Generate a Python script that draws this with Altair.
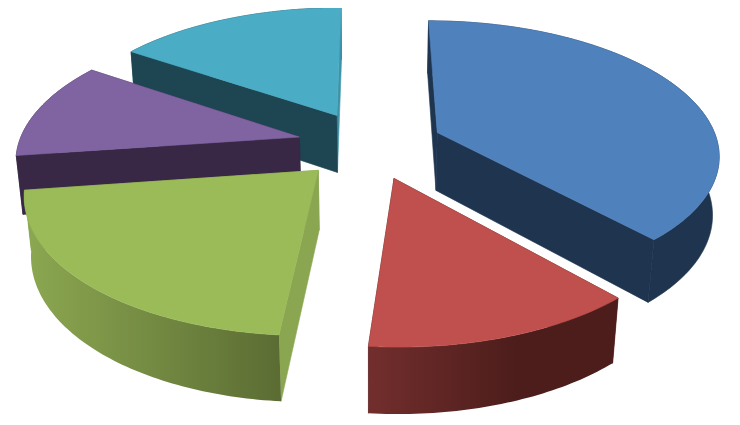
import math
import altair as alt
import pandas as pd

# Slice shares (degrees of the pie), clockwise from the back of the pie
names = ["Blue", "Red", "Green", "Purple", "Teal"]
shares = [138, 47, 77, 42, 56]
start_angle = 0
top_colors = ["#4F81BD", "#C0504D", "#9BBB59", "#8064A2", "#4BACC6"]
wall_dark = ["#1F344F", "#4C1D1B", "#5B6C33", "#382845", "#1D4652"]
wall_light = ["#1F344F", "#722E2D", "#8CA851", "#382845", "#1D4652"]
cut_start = ["#1F344F", "#4C1D1B", "#8AA650", "#382845", "#1D4652"]
cut_end = ["#1F344F", "#4C1D1B", "#8AA650", "#382845", "#3F93A8"]
paint_order = [4, 3, 0, 2, 1]
rim_behind_cuts = [True, False, False, True, True]

# Camera of the 3-D pie
CX, CY, F, ELEV, DIST, EXPLODE, DEPTH = 370.0, 144.7, 281.0, 28.0, 5.87, 0.26, 0.24
SIN, COS = math.sin(math.radians(ELEV)), math.cos(math.radians(ELEV))


def project(u, v, z):
    w = DIST - v * COS - z * SIN
    k = F * DIST / w
    return CX + k * u, CY + k * (v * SIN - z * COS)


def polar(theta):
    t = math.radians(theta)
    return math.sin(t), -math.cos(t)


def slice_faces(a0, a1):
    ou, ov = polar((a0 + a1) / 2)
    ou, ov = ou * EXPLODE, ov * EXPLODE
    steps = max(int(a1 - a0), 2)
    rim = []
    for i in range(steps + 1):
        pu, pv = polar(a0 + (a1 - a0) * i / steps)
        rim.append((ou + pu, ov + pv))
    top = [project(u, v, 0) for u, v in rim]
    low = [project(u, v, -DEPTH) for u, v in rim]
    apex_t, apex_b = project(ou, ov, 0), project(ou, ov, -DEPTH)
    return {
        "top": [apex_t] + top,
        "wall": top + low[::-1],
        "cut0": [apex_t, top[0], low[0], apex_b],
        "cut1": [apex_t, top[-1], low[-1], apex_b],
    }


x_scale = alt.Scale(domain=[8, 732], nice=False, zero=False)
y_scale = alt.Scale(domain=[8, 417], reverse=True, nice=False, zero=False)


def polygon(points, fill):
    closed = list(points) + [points[0]]
    df = pd.DataFrame({
        "x": [p[0] for p in closed],
        "y": [p[1] for p in closed],
        "o": list(range(len(closed))),
    })
    solid = isinstance(fill, str)
    return (
        alt.Chart(df)
        .mark_line(fill=fill, stroke=fill if solid else "transparent", strokeWidth=0.6 if solid else 0)
        .encode(
            x=alt.X("x:Q", scale=x_scale, axis=None),
            y=alt.Y("y:Q", scale=y_scale, axis=None),
            order=alt.Order("o:Q"),
        )
    )


starts = []
acc = start_angle
for s in shares:
    starts.append(acc)
    acc += s

layers = []
for i in paint_order:
    faces = slice_faces(starts[i], starts[i] + shares[i])
    if wall_light[i] != wall_dark[i]:
        stops = [alt.GradientStop(color=wall_light[i], offset=0)]
        if names[i] == "Red":
            stops.append(alt.GradientStop(color=wall_dark[i], offset=0.6))
        stops.append(alt.GradientStop(color=wall_dark[i], offset=1))
        wall_fill = alt.Gradient(gradient="linear", x1=0, x2=1, y1=0, y2=0, stops=stops)
    else:
        wall_fill = wall_dark[i]
    rim_layer = polygon(faces["wall"], wall_fill)
    if rim_behind_cuts[i]:
        layers.append(rim_layer)
    layers.append(polygon(faces["cut1"], cut_end[i]))
    layers.append(polygon(faces["cut0"], cut_start[i]))
    if not rim_behind_cuts[i]:
        layers.append(rim_layer)
    layers.append(polygon(faces["top"], top_colors[i]))

chart = (
    alt.layer(*layers)
    .properties(width=724, height=409, padding=0, autosize=alt.AutoSizeParams(type="none"), background="white")
    .configure_view(stroke=None)
)
chart.save("out.html", embed_options={"renderer": "svg", "actions": False})
